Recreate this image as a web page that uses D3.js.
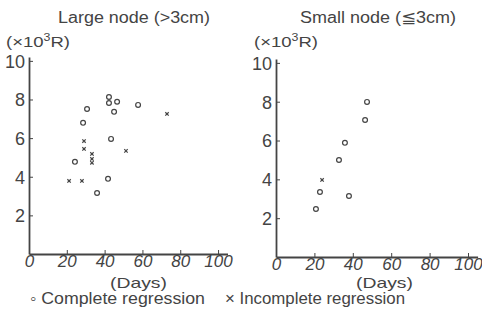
<!DOCTYPE html>
<html>
<head>
<meta charset="utf-8">
<script src="https://cdn.jsdelivr.net/npm/d3@7"></script>
<style>
  body { margin: 0; background: #fff; }
  text { font-family: "Liberation Sans", "DejaVu Sans", sans-serif; fill: #444; }
</style>
</head>
<body>
<div id="chart"></div>
<script>
// data (days, x10^3 R)
const xTicks = [0, 20, 40, 60, 80, 100];
const yTicks = [2, 4, 6, 8, 10];

const largeComplete = [
  [42.3, 8.13], [42.3, 7.82], [46.6, 7.88], [57.7, 7.72], [30.7, 7.51],
  [45.0, 7.36], [28.6, 6.79], [43.4, 5.96], [24.3, 4.77], [41.8, 3.89], [36.0, 3.16]
];
const largeIncomplete = [
  [73.0, 7.25], [29.1, 5.85], [29.1, 5.44], [33.3, 5.18], [33.3, 4.92],
  [33.3, 4.72], [51.3, 5.34], [21.2, 3.78], [28.0, 3.78]
];
const smallComplete = [
  [47.4, 7.99], [46.4, 7.06], [35.9, 5.88], [32.8, 5.00], [22.9, 3.35], [38.0, 3.14], [20.8, 2.47]
];
const smallIncomplete = [[24.0, 3.97]];

const legendLabels = ['◦ Complete regression', '× Incomplete regression'];

const width = 482, height = 320;
const ink = '#444';

const svg = d3.select('#chart').append('svg')
  .attr('width', width).attr('height', height);

function drawPanel(p) {
  const x = d3.scaleLinear().domain([0, 105]).range([p.x0, p.x1]);
  const y = d3.scaleLinear().domain([0, 10.2]).range([p.y0, p.y1]);
  const g = svg.append('g');

  const yAxis = g.append('g')
    .attr('transform', `translate(${p.x0},0)`)
    .call(d3.axisLeft(y).tickValues(yTicks).tickSizeInner(-4).tickSizeOuter(0).tickPadding(4));
  yAxis.selectAll('text').attr('font-size', '18px').attr('dy', '0.35em');

  const xAxis = g.append('g')
    .attr('transform', `translate(0,${p.y0})`)
    .call(d3.axisBottom(x).tickValues(xTicks).tickSizeInner(-4).tickSizeOuter(0).tickPadding(3));
  xAxis.selectAll('text').attr('font-size', '17px').attr('font-style', 'italic').attr('dy', '0.6em');

  g.selectAll('.domain').attr('stroke', ink).attr('stroke-width', 1.8);
  g.selectAll('.tick line').attr('stroke', ink).attr('stroke-width', 1);

  // title and units
  g.append('text').attr('x', p.titleX).attr('y', 23)
    .attr('font-size', '16px')
    .attr('textLength', p.titleW).attr('lengthAdjust', 'spacingAndGlyphs')
    .text(p.title);
  g.append('text').attr('x', p.unitX).attr('y', 47)
    .attr('font-size', '15px')
    .attr('textLength', 64).attr('lengthAdjust', 'spacingAndGlyphs')
    .html('(×10<tspan dy="-6" font-size="10px">3</tspan><tspan dy="6">R)</tspan>');
  g.append('text').attr('x', p.daysX - 28).attr('y', 288)
    .attr('font-size', '15px')
    .attr('textLength', 57).attr('lengthAdjust', 'spacingAndGlyphs')
    .text('(Days)');

  g.selectAll('.done')
    .data(p.complete)
    .enter().append('circle')
    .attr('cx', d => x(d[0]))
    .attr('cy', d => y(d[1]))
    .attr('r', 2.4)
    .attr('fill', 'none')
    .attr('stroke', ink)
    .attr('stroke-width', 1.2);

  const c = 1.7;
  g.selectAll('.part')
    .data(p.incomplete)
    .enter().append('path')
    .attr('d', d => `M${x(d[0]) - c},${y(d[1]) - c}L${x(d[0]) + c},${y(d[1]) + c}M${x(d[0]) - c},${y(d[1]) + c}L${x(d[0]) + c},${y(d[1]) - c}`)
    .attr('stroke', ink)
    .attr('stroke-width', 1.2);
}

drawPanel({ x0: 29, x1: 227.5, y0: 254, y1: 57, title: 'Large node (>3cm)', titleX: 58, titleW: 152, unitX: 6, daysX: 138,
  complete: largeComplete, incomplete: largeIncomplete });
drawPanel({ x0: 276, x1: 477.6, y0: 257, y1: 59, title: 'Small node (≦3cm)', titleX: 300, titleW: 156, unitX: 254, daysX: 384,
  complete: smallComplete, incomplete: smallIncomplete });

// legend
svg.selectAll('.legend')
  .data(legendLabels)
  .enter().append('text')
  .attr('x', (d, i) => i === 0 ? 30 : 225)
  .attr('y', 304)
  .attr('font-size', '16px')
  .attr('textLength', (d, i) => i === 0 ? 175 : 180)
  .attr('lengthAdjust', 'spacingAndGlyphs')
  .text(d => d);
</script>
</body>
</html>
